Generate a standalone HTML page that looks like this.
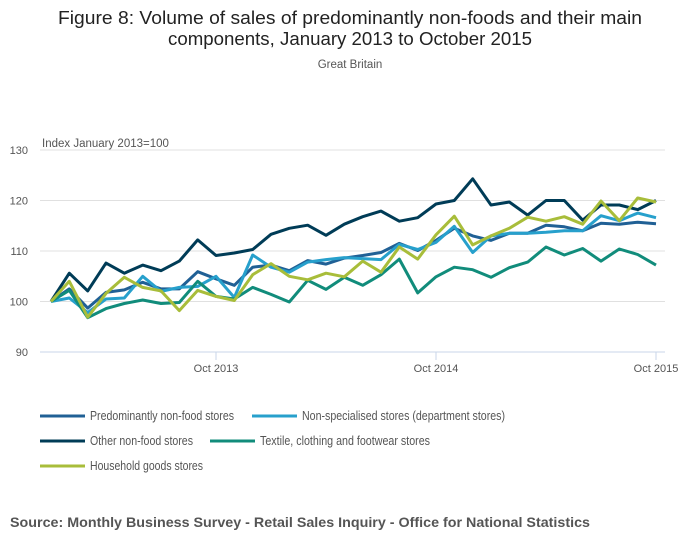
<!DOCTYPE html>
<html><head><meta charset="utf-8"><style>
body{margin:0;background:#fff;width:700px;height:549px;overflow:hidden;font-family:"Liberation Sans",sans-serif}
</style></head><body>
<svg id="chart" width="700" height="549" xmlns="http://www.w3.org/2000/svg" style="font-family:'Liberation Sans',sans-serif">
<text x="350" y="24" text-anchor="middle" font-size="18" fill="#222" textLength="584" lengthAdjust="spacingAndGlyphs">Figure 8: Volume of sales of predominantly non-foods and their main</text>
<text x="350" y="45" text-anchor="middle" font-size="18" fill="#222" textLength="364" lengthAdjust="spacingAndGlyphs">components, January 2013 to October 2015</text>
<text x="350" y="68" text-anchor="middle" font-size="11.5" fill="#555">Great Britain</text>
<text x="42" y="147" font-size="11.5" fill="#555">Index January 2013=100</text>
<g id="grid"></g><g id="series"></g><g id="legend"></g>
<text x="10" y="527" font-size="14" font-weight="bold" fill="#555" textLength="580" lengthAdjust="spacingAndGlyphs">Source: Monthly Business Survey - Retail Sales Inquiry - Office for National Statistics</text>
</svg>
<script>
const yTicks=[90,100,110,120,130];
const xTickIdx=[9,21,33];
const xTickLabels=["Oct 2013","Oct 2014","Oct 2015"];
const seriesNames=["Predominantly non-food stores","Non-specialised stores (department stores)","Other non-food stores","Textile, clothing and footwear stores","Household goods stores"];
const predominantly=[100,102.5,98.7,101.8,102.3,103.8,102.5,102.5,105.9,104.5,103.2,106.8,107.2,106.1,108.1,107.4,108.6,109.1,109.7,111.5,110.1,112.1,114.5,113,112.1,113.5,113.5,115.1,114.8,114,115.5,115.3,115.7,115.4];
const nonSpecialised=[100,100.7,97.8,100.5,100.7,105,102,102.8,103,105,100.8,109.2,106.8,105.8,107.8,108.3,108.7,108.5,108.3,111.3,110.3,111.7,114.9,109.7,113,113.5,113.5,113.7,114,114,117,116,117.5,116.6];
const otherNonFood=[100,105.6,102.1,107.6,105.6,107.2,106.1,108,112.2,109.1,109.6,110.3,113.3,114.5,115.1,113.1,115.3,116.8,117.9,115.9,116.6,119.3,120,124.3,119.1,119.7,117.1,120,120,116.1,119.1,119.1,118.2,120];
const textile=[100,102.2,96.8,98.6,99.6,100.3,99.6,99.8,104,101,100.5,102.8,101.4,99.9,104.2,102.4,104.8,103.2,105.3,108.4,101.7,104.9,106.8,106.3,104.8,106.7,107.8,110.8,109.2,110.5,108,110.4,109.3,107.2];
const household=[100,104,96.9,101.6,104.8,102.8,102.1,98.2,102.2,101,100.2,105.3,107.5,105,104.3,105.6,104.9,108,105.8,110.8,108.4,113.2,116.9,111.2,113,114.5,116.7,115.9,116.8,115.3,119.9,116,120.5,119.7];
const colors=["#206095","#27a0cc","#003c57","#118c7b","#a8bd3a"];
const all=[predominantly,nonSpecialised,otherNonFood,textile,household];
const NS="http://www.w3.org/2000/svg";
const x=i=>51+i*(605/33);
const y=v=>352-(v-90)*(202/40);
function mk(t,a){const e=document.createElementNS(NS,t);for(const k in a)e.setAttribute(k,a[k]);return e;}
const grid=document.getElementById('grid');
yTicks.forEach(v=>{
 const l=mk('line',{x1:40,x2:665,y1:y(v),y2:y(v),stroke:v===90?'#c9d5e8':'#e0e0e0','stroke-width':1});
 
 
 grid.appendChild(l);
 const t=mk('text',{x:28,y:y(v)+4,'font-size':11,fill:'#555','text-anchor':'end'});
 
 
 t.textContent=v;grid.appendChild(t);
});
xTickIdx.forEach((idx,k)=>{
 const l=mk('line',{x1:x(idx),x2:x(idx),y1:352,y2:360,stroke:'#c9d5e8'});
 
 
 grid.appendChild(l);
 const t=mk('text',{x:x(idx),y:372,'font-size':11,fill:'#555','text-anchor':'middle'});
 
 
 t.textContent=xTickLabels[k];grid.appendChild(t);
});
const sg=document.getElementById('series');
all.forEach((d,s)=>{
 const p=mk('polyline',{points:d.map((v,i)=>x(i).toFixed(1)+','+y(v).toFixed(1)).join(' '),fill:'none',stroke:colors[s],'stroke-width':3,'stroke-linejoin':'round'});
 
 
 sg.appendChild(p);
});
const lg=document.getElementById('legend');
const pos=[[40,416],[252,416],[40,441],[210,441],[40,466]];
const lens=[144,203,103,170,113];
seriesNames.forEach((n,s)=>{
 const [lx,ly]=pos[s];
 const l=mk('line',{x1:lx,x2:lx+45,y1:ly,y2:ly,stroke:colors[s],'stroke-width':3});
 
 
 lg.appendChild(l);
 const t=mk('text',{x:lx+50,y:ly+4,'font-size':12.5,fill:'#555',textLength:lens[s],lengthAdjust:'spacingAndGlyphs'});
 
 
 t.textContent=n;lg.appendChild(t);
});
</script>
</body></html>
